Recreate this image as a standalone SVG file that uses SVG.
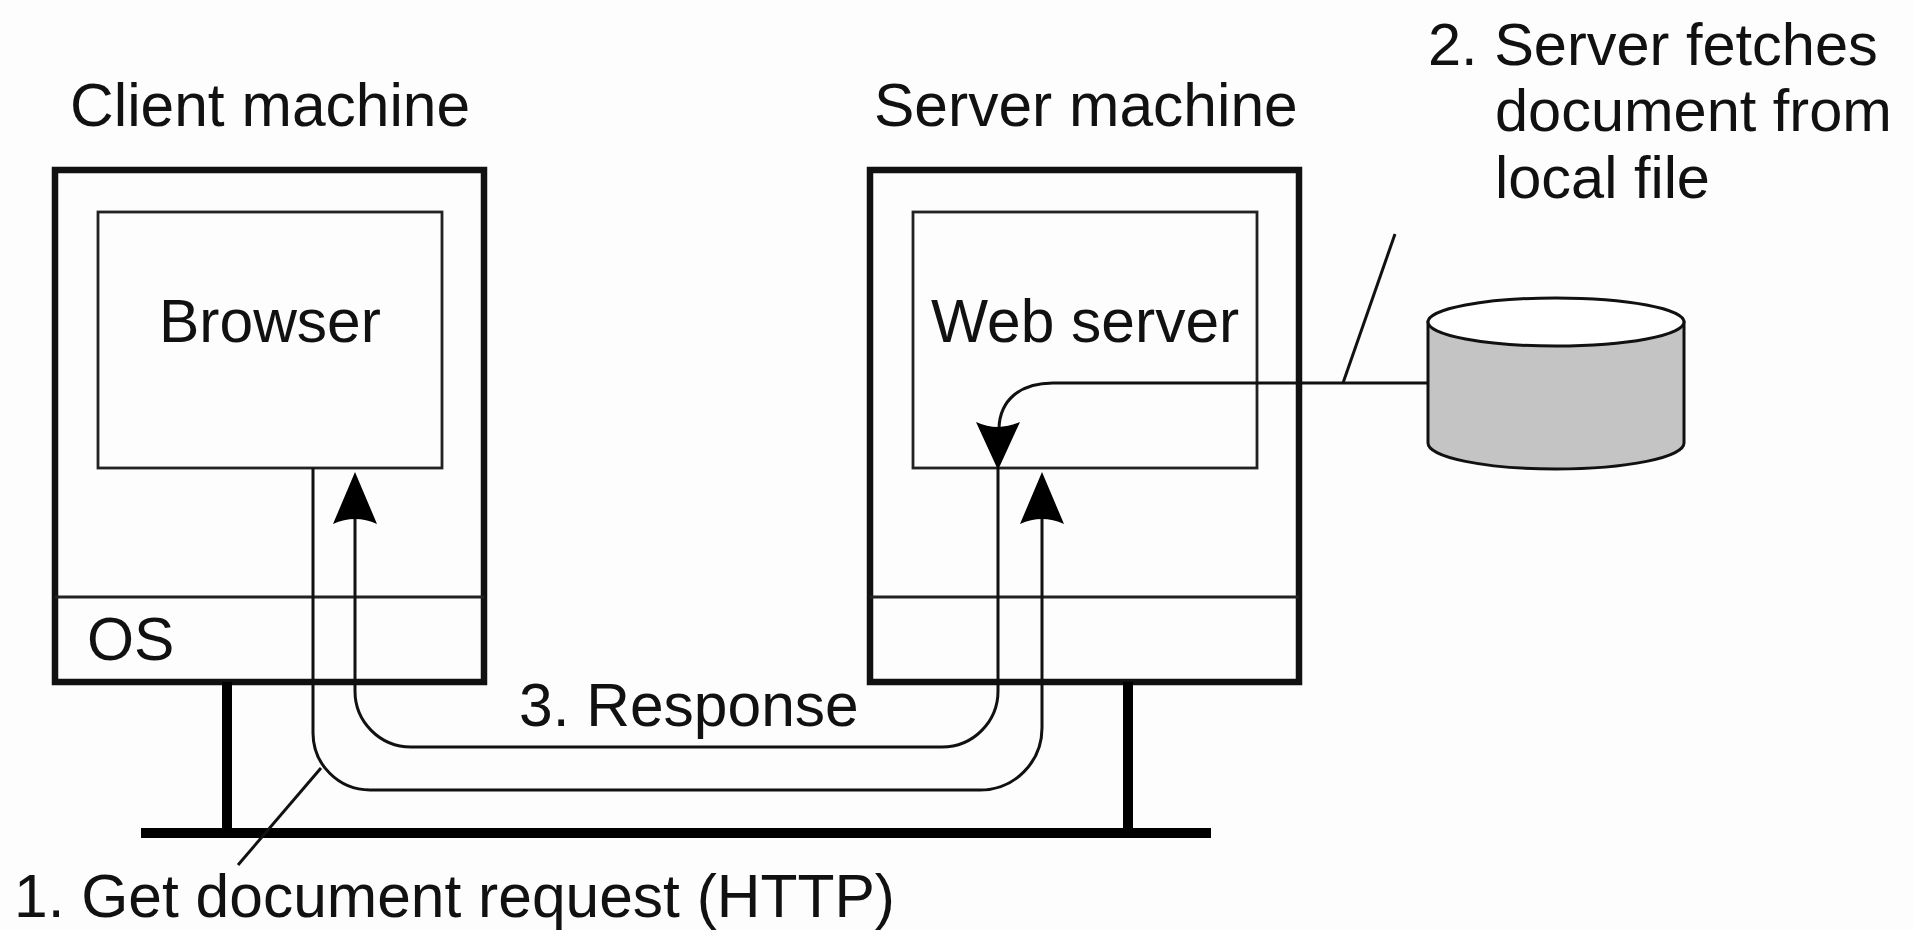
<svg xmlns="http://www.w3.org/2000/svg" width="1913" height="930" viewBox="0 0 1913 930">
<style>
text{font-family:"Liberation Sans",Arial,sans-serif;font-size:60.5px;fill:#111}
.note{font-size:59.5px}
.outer{fill:none;stroke:#111;stroke-width:6.5}
.inner{fill:none;stroke:#222;stroke-width:2.8}
.thick{fill:none;stroke:#000;stroke-width:10}
.line{fill:none;stroke:#111;stroke-width:3}
.head{fill:#000}
</style>
<rect width="1913" height="930" fill="#fdfdfd"/>
<g id="client-machine">
<rect class="outer" x="55" y="170" width="429" height="512"/>
<rect class="inner" x="98" y="212" width="344" height="256"/>
<line class="inner" x1="55" y1="597" x2="484" y2="597"/>
<text x="70" y="126">Client machine</text>
<text x="159" y="342">Browser</text>
<text x="87" y="660">OS</text>
</g>
<g id="server-machine">
<rect class="outer" x="870" y="170" width="429" height="512"/>
<rect class="inner" x="913" y="212" width="344" height="256"/>
<line class="inner" x1="870" y1="597" x2="1299" y2="597"/>
<text x="874" y="126">Server machine</text>
<text x="931" y="342">Web server</text>
</g>
<g id="disk">
<path d="M1428 322V443A128 26 0 0 0 1684 443V322Z" fill="#c4c4c4" stroke="#111" stroke-width="3"/>
<ellipse cx="1556" cy="322" rx="128" ry="24" fill="#fff" stroke="#111" stroke-width="3"/>
</g>
<g id="network">
<line class="thick" x1="227" y1="682" x2="227" y2="833"/>
<line class="thick" x1="1128" y1="682" x2="1128" y2="833"/>
<line class="thick" x1="141" y1="833" x2="1211" y2="833"/>
</g>
<g id="connectors">
<path class="line" d="M313 468V733A57 57 0 0 0 370 790H980A62 62 0 0 0 1042 728V515"/>
<path class="head" d="M1042 472L1064 524Q1042 514 1020 524Z"/>
<path class="line" d="M355 515V691A56 56 0 0 0 411 747H942A56 56 0 0 0 998 691V468"/>
<path class="head" d="M355 472L377 524Q355 514 333 524Z"/>
<path class="line" d="M1428 383H1053C1020 383 1000 400 999 428"/>
<path class="head" d="M998 470L976 422Q998 432 1020 422Z"/>
<line class="line" x1="1343" y1="383" x2="1395" y2="234"/>
<line class="line" x1="321" y1="768" x2="238" y2="865"/>
</g>
<g id="labels">
<text x="519" y="726">3. Response</text>
<text class="note" x="1428" y="65">2. Server fetches</text>
<text class="note" x="1495" y="131">document from</text>
<text class="note" x="1495" y="198">local file</text>
<text x="14" y="917">1. Get document request (HTTP)</text>
</g>
</svg>
